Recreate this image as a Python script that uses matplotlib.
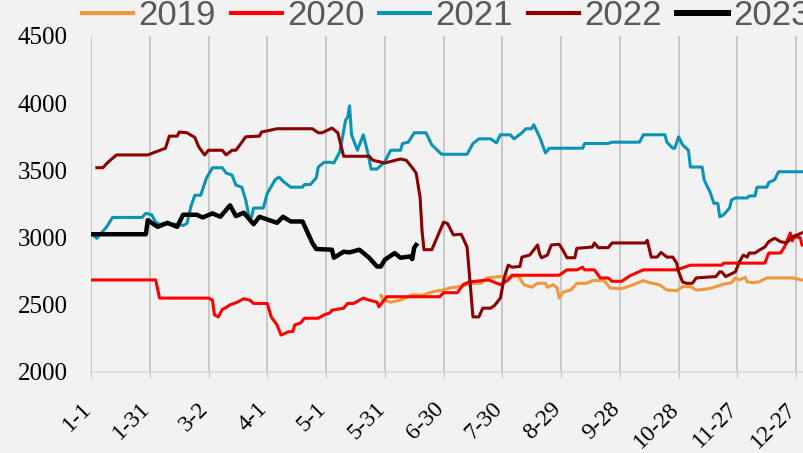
import matplotlib
matplotlib.use("Agg")
import matplotlib.pyplot as plt
import matplotlib.transforms as mtransforms
from matplotlib.lines import Line2D

# 日付 (1/1 からの経過日数) と価格
tick_days = [0, 30, 60, 90, 120, 150, 180, 210, 240, 270, 300, 330, 360]
tick_labels = ["1-1", "1-31", "3-2", "4-1", "5-1", "5-31", "6-30",
               "7-30", "8-29", "9-28", "10-28", "11-27", "12-27"]

days_2019 = [148, 149, 153, 158, 161, 164, 169, 173, 177, 180, 183, 188, 192, 195, 199,
             202, 209, 214, 218, 221, 225, 228, 232, 233, 236, 238, 239, 241, 245, 248,
             253, 256, 262, 265, 270, 272, 277, 282, 285, 290, 294, 299, 302, 306, 309,
             313, 317, 319, 322, 327, 329, 331, 334, 335, 338, 341, 345, 358, 363]
vals_2019 = [2570, 2535, 2520, 2535, 2555, 2575, 2570, 2590, 2605, 2610, 2625, 2635, 2650, 2660, 2660,
             2700, 2710, 2705, 2715, 2650, 2630, 2660, 2660, 2630, 2650, 2625, 2550, 2595, 2610, 2660,
             2660, 2680, 2680, 2625, 2620, 2625, 2650, 2680, 2665, 2650, 2610, 2605, 2635, 2635, 2610,
             2615, 2625, 2635, 2650, 2665, 2700, 2685, 2705, 2670, 2665, 2670, 2700, 2700, 2685]

days_2020 = [0, 33, 35, 60, 62, 63, 65, 67, 69, 71, 74, 78, 81, 83, 90, 92, 95, 97, 101, 103,
             104, 107, 109, 116, 119, 122, 123, 129, 131, 134, 139, 142, 146, 147, 151, 178,
             180, 187, 190, 193, 203, 209, 213, 215, 239, 243, 248, 251, 252, 257, 260, 264,
             266, 271, 275, 282, 299, 306, 322, 323, 344, 346, 352, 354, 357, 358, 359, 362, 363]
vals_2020 = [2685, 2685, 2550, 2550, 2535, 2425, 2410, 2465, 2480, 2500, 2515, 2545, 2535, 2510, 2510, 2410, 2350, 2275, 2300, 2300,
             2350, 2365, 2400, 2400, 2425, 2440, 2460, 2475, 2510, 2510, 2550, 2535, 2520, 2485, 2560, 2560,
             2590, 2590, 2650, 2670, 2685, 2650, 2685, 2720, 2720, 2760, 2760, 2780, 2760, 2760, 2700, 2700,
             2675, 2675, 2715, 2760, 2760, 2795, 2795, 2810, 2810, 2885, 2885, 2930, 3035, 2975, 3005, 3000, 2945]

days_2021 = [1, 3, 5, 8, 11, 26, 28, 31, 33, 35, 45, 47, 49, 51, 53, 56, 59, 62, 67, 69, 72, 74,
             77, 79, 81, 82, 83, 88, 90, 94, 96, 98, 102, 108, 109, 112, 115, 116, 119, 122, 124,
             127, 130, 131, 132, 133, 136, 139, 141, 143, 146, 150, 153, 158, 159, 162, 165, 171,
             174, 179, 192, 195, 198, 204, 207, 209, 214, 216, 220, 222, 225, 226, 229, 232, 234,
             251, 252, 264, 266, 280, 282, 293, 294, 297, 298, 300, 302, 305, 306, 312, 313, 316,
             318, 320, 321, 323, 326, 327, 329, 335, 336, 339, 340, 345, 346, 349, 351, 364]
vals_2021 = [3020, 2995, 3030, 3080, 3150, 3150, 3180, 3170, 3115, 3100, 3100, 3090, 3105, 3230, 3315, 3315, 3445, 3520, 3520, 3480, 3465, 3390,
             3375, 3280, 3130, 3155, 3220, 3220, 3330, 3430, 3450, 3420, 3375, 3375, 3395, 3395, 3445, 3525, 3560, 3560, 3555,
             3637, 3875, 3895, 3980, 3765, 3650, 3765, 3650, 3510, 3510, 3565, 3650, 3650, 3700, 3710, 3780, 3780,
             3690, 3620, 3620, 3700, 3735, 3735, 3705, 3765, 3765, 3735, 3780, 3810, 3810, 3840, 3750, 3630, 3665,
             3665, 3700, 3700, 3710, 3710, 3765, 3765, 3710, 3665, 3665, 3750, 3690, 3650, 3525, 3525, 3430, 3340,
             3255, 3255, 3155, 3170, 3220, 3280, 3295, 3295, 3310, 3310, 3375, 3375, 3410, 3430, 3490, 3490]

days_2022 = [3, 6, 9, 13, 29, 38, 40, 44, 45, 49, 53, 55, 58, 60, 67, 69, 72, 74, 79, 86, 87,
             95, 113, 116, 118, 123, 126, 129, 142, 144, 150, 158, 161, 164, 166, 168, 169, 170,
             174, 180, 182, 185, 189, 192, 195, 198, 200, 204, 206, 209, 211, 213, 215, 219, 220,
             224, 228, 229, 230, 233, 235, 239, 241, 243, 247, 248, 256, 257, 259, 264, 266, 283,
             284, 286, 289, 291, 294, 297, 299, 300, 302, 304, 307, 309, 319, 321, 322, 324, 329,
             331, 333, 335, 336, 339, 341, 344, 346, 349, 352, 355, 358, 363]
vals_2022 = [3520, 3520, 3565, 3615, 3615, 3665, 3755, 3755, 3785, 3780, 3745, 3675, 3615, 3650, 3650, 3615, 3650, 3650, 3750, 3755, 3785,
             3810, 3810, 3780, 3780, 3815, 3780, 3605, 3605, 3575, 3555, 3585, 3575, 3520, 3480, 3300, 3050, 2910,
             2910, 3115, 3105, 3020, 3025, 2930, 2410, 2410, 2475, 2475, 2495, 2550, 2705, 2795, 2780, 2785, 2855,
             2870, 2945, 2880, 2850, 2870, 2945, 2950, 2905, 2850, 2850, 2920, 2930, 2960, 2925, 2925, 2960, 2960,
             2980, 2855, 2855, 2890, 2855, 2855, 2810, 2745, 2670, 2660, 2660, 2700, 2710, 2745, 2745, 2710, 2745,
             2820, 2870, 2855, 2885, 2885, 2905, 2930, 2970, 2995, 2970, 2960, 3005, 3035]

days_2023 = [1, 28, 29, 34, 39, 44, 47, 54, 57, 62, 66, 71, 74, 78, 83, 86, 95, 98, 102, 108,
             113, 115, 123, 124, 129, 132, 137, 142, 146, 148, 150, 155, 158, 163, 164, 165, 166]
vals_2023 = [3025, 3025, 3130, 3080, 3110, 3080, 3170, 3170, 3150, 3180, 3155, 3240, 3160, 3185, 3100, 3155, 3110, 3155, 3120, 3120,
             2960, 2915, 2910, 2850, 2895, 2890, 2910, 2850, 2785, 2785, 2835, 2885, 2850, 2860, 2840, 2925, 2945]

series = [
    ("2019", days_2019, vals_2019, "#F0983E", 2.2),
    ("2020", days_2020, vals_2020, "#FF0000", 2.2),
    ("2021", days_2021, vals_2021, "#0B93B6", 2.2),
    ("2022", days_2022, vals_2022, "#8B0000", 2.2),
    ("2023", days_2023, vals_2023, "#000000", 3.2),
]

bg = "#F2F2F2"
fig = plt.figure(figsize=(8.04, 4.53), dpi=100, facecolor=bg)
ax = fig.add_axes([91 / 804, 81 / 453, 1 - 91 / 804, 336 / 453])
ax.set_facecolor(bg)

for name, d, v, c, lw in series:
    ax.plot(d, v, color=c, linewidth=lw, solid_joinstyle="round")

ax.set_xlim(0, 364)
ax.set_ylim(2000, 4500)
ax.set_yticks([2000, 2500, 3000, 3500, 4000, 4500])
ax.set_xticks(tick_days)

ax.grid(axis="x", color="#C4C4C4", linewidth=1.3)
ax.set_axisbelow(True)
for s in ["top", "right", "left"]:
    ax.spines[s].set_visible(False)
ax.spines["bottom"].set_color("#D9D9D9")
ax.spines["bottom"].set_linewidth(1.2)
ax.tick_params(axis="y", length=0, pad=17)
ax.tick_params(axis="x", length=4, color="#C4C4C4", pad=4)

ax.set_xticklabels(tick_labels, rotation=45, ha="right", rotation_mode="anchor",
                   family="Liberation Serif", fontsize=17)
# ラベルを左下へずらす (tick_params の後で設定すること)
shift = mtransforms.ScaledTranslation(-7.5 / 72, -11 / 72, fig.dpi_scale_trans)
for lab in ax.get_xticklabels():
    lab.set_transform(lab.get_transform() + shift)
for lab in ax.get_yticklabels():
    lab.set_family("Liberation Serif")
    lab.set_fontsize(18)

handles = [Line2D([], [], color=c, linewidth=lw * 1.35) for _, _, _, c, lw in series]
leg = fig.legend(handles, [s[0] for s in series], ncol=5, loc="center left",
                 bbox_to_anchor=(82 / 804, 1 - 15.5 / 453), frameon=False,
                 prop={"family": "Liberation Sans", "size": 25},
                 handlelength=1.47, handletextpad=0.15, columnspacing=0.43,
                 borderpad=0, borderaxespad=0)
for t in leg.get_texts():
    t.set_color("#595959")

fig.savefig("out.png", dpi=100, facecolor=bg)
